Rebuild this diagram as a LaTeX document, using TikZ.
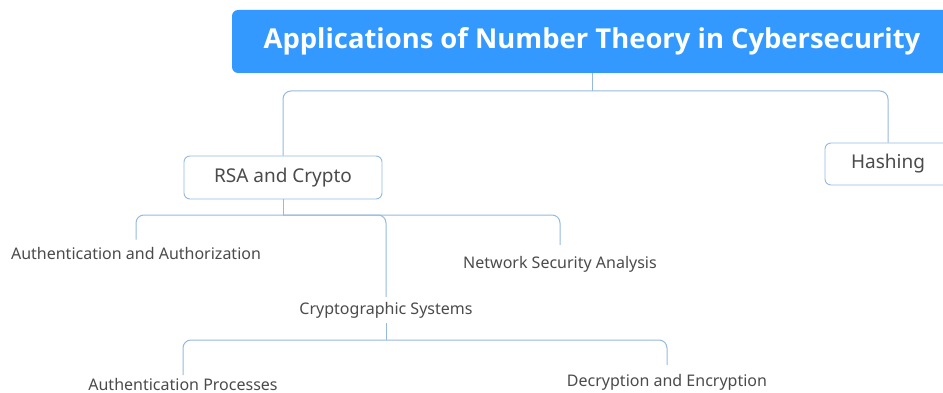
\documentclass[tikz,border=0pt]{standalone}
\usepackage{fontspec}
\setmainfont{Noto Sans}
\newfontfamily\titlefont{Open Sans}
\usetikzlibrary{positioning}
\definecolor{titleblue}{RGB}{51,153,255}
\definecolor{linkblue}{RGB}{150,185,222}
\definecolor{labelgray}{RGB}{75,75,75}
\begin{document}
\begin{tikzpicture}[x=1pt,y=-1pt,
		titlebox/.style={fill=titleblue,rounded corners=6pt,text=white,font=\titlefont\fontsize{27.4}{32}\selectfont\bfseries,minimum width=720pt,minimum height=63pt},
		topicbox/.style={draw=linkblue,fill=white,rounded corners=6pt,text=labelgray,font=\fontsize{19}{22}\selectfont,minimum height=43pt,line width=0.9pt},
		leaf/.style={text=labelgray,font=\fontsize{16}{19}\selectfont,inner ysep=7pt},
		link/.style={draw=linkblue,line width=1pt,rounded corners=8pt}]
		\clip (0,0) rectangle (943,393);
		\fill[white] (0,0) rectangle (943,393);
		% main topic
		\node[titlebox] (root) at (592,41.5) {Applications of Number Theory in Cybersecurity};
		% second level
		\node[topicbox,minimum width=198pt] (rsa) at (283,177.5) {RSA and Crypto};
		\node[topicbox,minimum width=126pt,minimum height=42pt] (hash) at (888,164) {Hashing};
		% leaves under RSA and Crypto
		\node[leaf] (authz) at (136,253) {Authentication and Authorization};
		\node[leaf,inner ysep=5pt] (cryptosys) at (386,310) {Cryptographic Systems};
		\node[leaf,inner ysep=11pt] (netsec) at (560,264) {Network Security Analysis};
		% leaves under Cryptographic Systems
		\node[leaf,inner ysep=3pt] (authproc) at (183,384.5) {Authentication Processes};
		\node[leaf,inner ysep=9pt] (decenc) at (667,382) {Decryption and Encryption};
		% connectors
		\coordinate (rootbus) at (root.south |- 0,91);
		\coordinate (rsabus) at (rsa.south |- 0,215);
		\coordinate (cryptobus) at (cryptosys.south |- 0,340);
		\draw[link] (root.south) -- (rootbus);
		\draw[link] (rootbus) -| (rsa.north);
		\draw[link] (rootbus) -| (hash.north);
		\draw[link] (rsa.south) -- (rsabus);
		\draw[link] (rsabus) -| (authz.north);
		\draw[link] (rsabus) -| (cryptosys.north);
		\draw[link] (rsabus) -| (netsec.north);
		\draw[link] (cryptosys.south) -- (cryptobus);
		\draw[link] (cryptobus) -| (authproc.north);
		\draw[link] (cryptobus) -| (decenc.north);
\end{tikzpicture}
\end{document}
